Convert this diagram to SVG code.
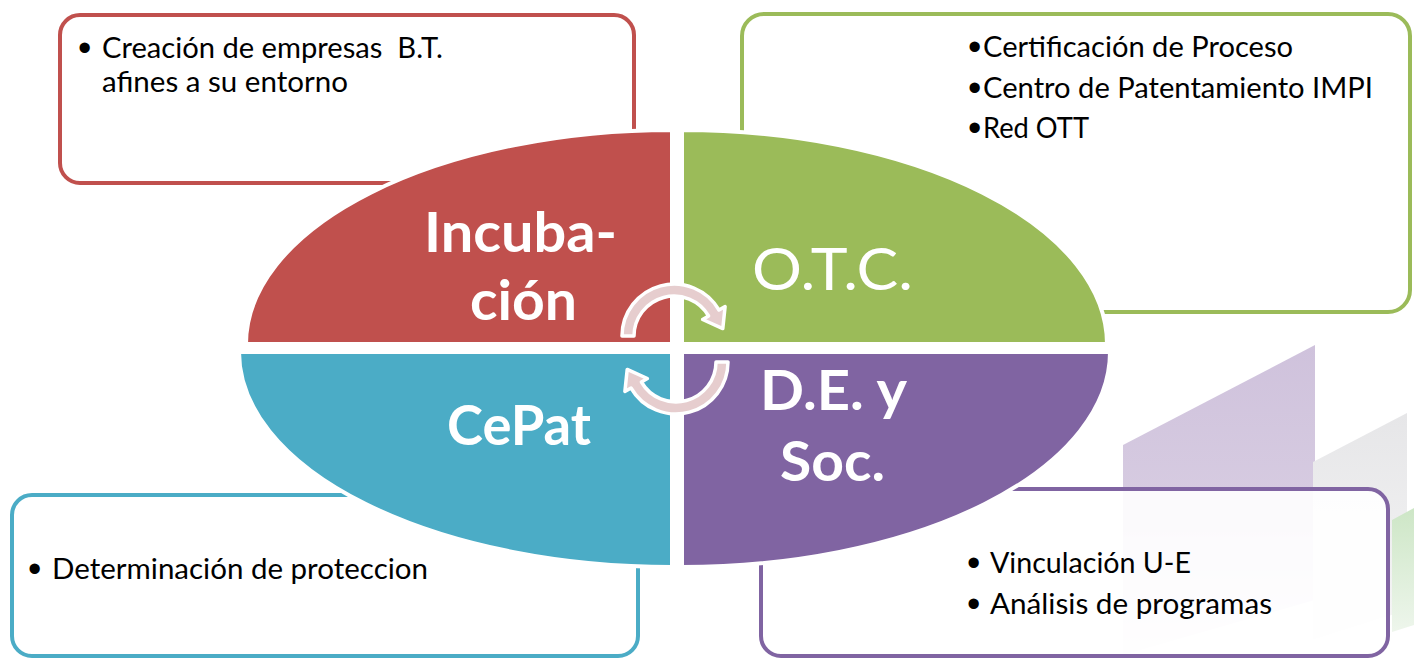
<svg xmlns="http://www.w3.org/2000/svg" width="1414" height="660" viewBox="0 0 1414 660">
  <style>
    .bg { stroke: none; }
    .box { fill: #ffffff; fill-opacity: 0.9; stroke-width: 4; }
    .quad { stroke: #ffffff; stroke-width: 4; }
    .txt { font-family: Lato, "Open Sans", "Liberation Sans", sans-serif; font-size: 28px; fill: #000000; }
    .bul { font-family: "Liberation Sans", Arial, sans-serif; font-size: 38px; fill: #000000; }
    .lbl { font-family: Lato, "Open Sans", "Liberation Sans", sans-serif; font-size: 56px; font-weight: bold; fill: #ffffff; }
    .lblr { font-family: Lato, "Open Sans", "Liberation Sans", sans-serif; font-size: 58px; font-weight: normal; fill: #ffffff; }
    .arrow { fill: #e6cdce; stroke: #ffffff; stroke-width: 3.5; stroke-linejoin: round; }
  </style>
  <defs>
    <linearGradient id="gPurple" x1="0" y1="0" x2="0" y2="1">
      <stop offset="0" stop-color="#cfc2dc"/>
      <stop offset="0.6" stop-color="#d8cde2"/>
      <stop offset="1" stop-color="#f4f1f6"/>
    </linearGradient>
    <linearGradient id="gGray" x1="0" y1="0" x2="0" y2="1">
      <stop offset="0" stop-color="#e6e6e8"/>
      <stop offset="1" stop-color="#f6f6f6"/>
    </linearGradient>
    <linearGradient id="gGreen" x1="0" y1="0" x2="0" y2="1">
      <stop offset="0" stop-color="#cde6c6"/>
      <stop offset="1" stop-color="#eef6ec"/>
    </linearGradient>
  </defs>

  <rect x="0" y="0" width="1414" height="660" fill="#ffffff"/>

  <g id="background">
    <polygon class="bg" points="1123,445 1315,345 1315,600 1123,655" fill="url(#gPurple)"/>
    <polygon class="bg" points="1313,462 1407,413 1407,610 1313,640" fill="url(#gGray)"/>
    <polygon class="bg" points="1392,520 1414,508 1414,625 1392,632" fill="url(#gGreen)"/>
  </g>

  <g id="box-incubacion">
    <rect class="box" x="60" y="15" width="574" height="168" rx="20" ry="20" stroke="#c0504d"/>
    <text class="bul" x="78" y="61">•</text>
    <text class="txt" x="102" y="58" xml:space="preserve" textLength="341" lengthAdjust="spacingAndGlyphs">Creación de empresas  B.T.</text>
    <text class="txt" x="102" y="92" textLength="246" lengthAdjust="spacingAndGlyphs">afines a su entorno</text>
  </g>

  <g id="box-otc">
    <rect class="box" x="742" y="14" width="668" height="298" rx="22" ry="22" stroke="#9bbb59"/>
    <text class="bul" x="968" y="60">•</text>
    <text class="txt" x="983" y="57" textLength="310" lengthAdjust="spacingAndGlyphs">Certificación de Proceso</text>
    <text class="bul" x="968" y="101">•</text>
    <text class="txt" x="983" y="98" textLength="390" lengthAdjust="spacingAndGlyphs">Centro de Patentamiento IMPI</text>
    <text class="bul" x="968" y="141">•</text>
    <text class="txt" x="983" y="138" textLength="106" lengthAdjust="spacingAndGlyphs">Red OTT</text>
  </g>

  <g id="box-cepat">
    <rect class="box" x="12" y="495" width="626" height="161" rx="20" ry="20" stroke="#4bacc6"/>
    <text class="bul" x="28" y="582">•</text>
    <text class="txt" x="52" y="579" textLength="376" lengthAdjust="spacingAndGlyphs">Determinación de proteccion</text>
  </g>

  <g id="box-de-soc">
    <rect class="box" x="761" y="489" width="627" height="167" rx="20" ry="20" stroke="#8064a2"/>
    <text class="bul" x="967" y="576">•</text>
    <text class="txt" x="990" y="573" textLength="201" lengthAdjust="spacingAndGlyphs">Vinculación U-E</text>
    <text class="bul" x="967" y="617">•</text>
    <text class="txt" x="990" y="614" textLength="282" lengthAdjust="spacingAndGlyphs">Análisis de programas</text>
  </g>

  <g id="node-incubacion">
    <path class="quad" d="M672,344 L672,130 A426,214 0 0 0 246,344 Z" fill="#c0504d"/>
    <text class="lbl" x="424" y="252" textLength="193" lengthAdjust="spacingAndGlyphs">Incuba-</text>
    <text class="lbl" x="470" y="320" textLength="107" lengthAdjust="spacingAndGlyphs">ción</text>
  </g>

  <g id="node-otc">
    <path class="quad" d="M682,344 L682,130 A425,214 0 0 1 1107,344 Z" fill="#9bbb59"/>
    <text class="lblr" x="752" y="290" textLength="161" lengthAdjust="spacingAndGlyphs">O.T.C.</text>
  </g>

  <g id="node-cepat">
    <path class="quad" d="M672,352 L239,352 A433,215 0 0 0 672,567 Z" fill="#4bacc6"/>
    <text class="lbl" x="447" y="445" textLength="144" lengthAdjust="spacingAndGlyphs">CePat</text>
  </g>

  <g id="node-de-soc">
    <path class="quad" d="M682,352 L1110,352 A428,215 0 0 1 682,567 Z" fill="#8064a2"/>
    <text class="lbl" x="760" y="410" xml:space="preserve" textLength="147" lengthAdjust="spacingAndGlyphs">D.E. y</text>
    <text class="lbl" x="780" y="481" textLength="105" lengthAdjust="spacingAndGlyphs">Soc.</text>
  </g>

  <g id="connectors">
    <path class="arrow" d="M622,336 A52,52 0 0 1 719,310 L725.1,306.5 L722.8,328.6 L702.6,319.5 L708.6,316 A40,40 0 0 0 634,336 Z"/>
    <path class="arrow" d="M728,362 A52,52 0 0 1 631,388 L624.9,391.5 L627.2,369.4 L647.4,378.5 L641.4,382 A40,40 0 0 0 716,362 Z"/>
  </g>
</svg>
